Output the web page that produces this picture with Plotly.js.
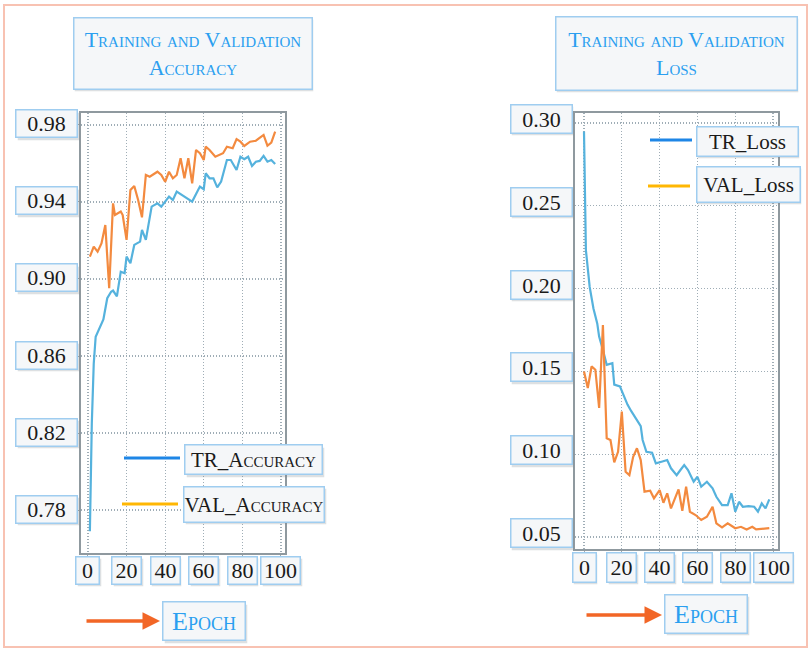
<!DOCTYPE html>
<html>
<head>
<meta charset="utf-8">
<script src="https://cdn.plot.ly/plotly-3.0.1.min.js"></script>
<style>html,body{margin:0;padding:0;background:#fff;}#chart{width:812px;height:651px;}</style>
</head>
<body>
<div id="chart"></div>
<script>
// ---------- DATA ----------
const accTrEpoch = [1,2,3,4,8,10,12,13,15,17,19,20,22,24,27,28,30,33,36,38,42,44,46,50,54,58,60,61,63,65,67,69,72,74,77,79,81,83,85,87,89,91,93,95,97];
const accTr      = [0.769,0.825,0.856,0.870,0.879,0.890,0.8934,0.894,0.891,0.9038,0.903,0.9116,0.9082,0.9177,0.9194,0.9255,0.9203,0.9376,0.9393,0.9376,0.9428,0.9410,0.9454,0.9428,0.9402,0.9480,0.9466,0.9549,0.9523,0.9523,0.9476,0.9506,0.9618,0.9618,0.9566,0.9635,0.9622,0.9635,0.9587,0.9609,0.9613,0.9639,0.9609,0.9618,0.9597];
const accValEpoch = [1,3,5,7,9,11,13,14,17,18,20,22,24,26,28,30,32,36,38,40,42,44,46,48,50,52,54,56,58,60,61,63,66,68,70,72,75,77,79,81,84,87,89,91,93,95,97];
const accVal      = [0.9116,0.9168,0.9142,0.9185,0.928,0.8952,0.9393,0.9332,0.935,0.9332,0.9203,0.9462,0.9483,0.941,0.932,0.954,0.9531,0.9557,0.954,0.9505,0.9557,0.9523,0.954,0.9627,0.9523,0.9627,0.9497,0.967,0.9653,0.9618,0.9687,0.967,0.9635,0.9644,0.9653,0.9687,0.9679,0.9726,0.9713,0.9691,0.9713,0.9718,0.9731,0.9748,0.9692,0.9708,0.9765];

const lossTrEpoch = [0,1,3,5,7,8,10,12,15,16,19,21,23,25,28,30,31,33,36,38,41,44,46,49,51,53,55,58,60,62,65,68,70,73,76,78,80,82,84,87,90,92,94,96,98];
const lossTr      = [0.2948,0.2233,0.201,0.188,0.179,0.171,0.163,0.154,0.155,0.142,0.141,0.135,0.130,0.126,0.121,0.117,0.1086,0.1015,0.1009,0.0945,0.0955,0.0965,0.0915,0.0874,0.0905,0.0935,0.0905,0.0834,0.0864,0.0804,0.0834,0.0794,0.0743,0.0693,0.0693,0.0764,0.0653,0.0713,0.0683,0.0687,0.0683,0.0653,0.0703,0.0673,0.0728];
const lossValEpoch = [0,2,4,6,8,10,12,14,16,18,20,22,24,26,28,30,32,35,37,40,42,44,46,50,52,54,56,59,62,65,68,70,73,76,80,83,86,89,91,95,98];
const lossVal      = [0.150,0.140,0.153,0.151,0.128,0.178,0.1096,0.1086,0.0951,0.1015,0.1257,0.0894,0.0874,0.0985,0.1036,0.0965,0.0774,0.078,0.0734,0.0784,0.0707,0.0764,0.0673,0.0788,0.0659,0.0804,0.0653,0.0633,0.0603,0.0623,0.0683,0.0583,0.0559,0.0583,0.0553,0.0562,0.0546,0.0562,0.0546,0.0553,0.0554];

const xTicks = [0,20,40,60,80,100];
const xTickLabels = ['0','20','40','60','80','100'];
const accYTicks = [0.78,0.82,0.86,0.90,0.94,0.98];
const accYTickLabels = ['0.78','0.82','0.86','0.90','0.94','0.98'];
const lossYTicks = [0.05,0.10,0.15,0.20,0.25,0.30];
const lossYTickLabels = ['0.05','0.10','0.15','0.20','0.25','0.30'];

const accTitle = 'Training and Validation<br>Accuracy';
const lossTitle = 'Training and Validation<br>Loss';
const xTitle = 'Epoch';
const accNames = ['TR_Accuracy','VAL_Accuracy'];
const lossNames = ['TR_Loss','VAL_Loss'];

// ---------- STYLE ----------
const W = 812, H = 651;
const px = x => x / W;
const py = y => 1 - y / H;
const SERIF = 'Liberation Serif, Times New Roman, serif';
const BOX_BORDER = '#9fcdf0';
const BOX_BG = '#f5f7f9';
const TITLE_BLUE = '#2b9ff0';
const TEXT_DARK = '#1a1a1a';
const PLOT_BLUE = '#55b2dd';
const PLOT_ORANGE = '#f38a3f';
const LEG_BLUE = '#1e86e6';
const LEG_YELLOW = '#ffb703';
const ARROW = '#f26626';

const traces = [
  {x: accTrEpoch, y: accTr, xaxis:'x', yaxis:'y', mode:'lines', name: accNames[0], line:{color:PLOT_BLUE, width:2.2}},
  {x: accValEpoch, y: accVal, xaxis:'x', yaxis:'y', mode:'lines', name: accNames[1], line:{color:PLOT_ORANGE, width:2.2}},
  {x: lossTrEpoch, y: lossTr, xaxis:'x2', yaxis:'y2', mode:'lines', name: lossNames[0], line:{color:PLOT_BLUE, width:2.2}},
  {x: lossValEpoch, y: lossVal, xaxis:'x2', yaxis:'y2', mode:'lines', name: lossNames[1], line:{color:PLOT_ORANGE, width:2.2}}
];

const axCommon = {
  showgrid:true, gridcolor:'#9fadb6', griddash:'1px,2px', gridwidth:1.2,
  showline:true, mirror:true, linecolor:'#8f999f', linewidth:2,
  ticks:'outside', ticklen:3, tickcolor:'#a0a8ad', tickwidth:1,
  showticklabels:false, zeroline:false, fixedrange:true
};

const annotations = [];
const boxAnn = (o) => Object.assign({
  showarrow:false, bordercolor:BOX_BORDER, borderwidth:1.5, borderpad:0,
  bgcolor:BOX_BG, xanchor:'center', yanchor:'middle', align:'center', valign:'middle',
  font:{family:SERIF, size:22, color:TEXT_DARK}
}, o);
// box with a soft drop shadow underneath
const addBox = (o) => {
  const sh = Object.assign({}, o, {
    text:' ', bgcolor:'rgba(120,130,140,0.25)', bordercolor:'rgba(0,0,0,0)',
    xshift:(o.xshift || 0) + 1.5, yshift:(o.yshift || 0) - 2.5
  });
  annotations.push(boxAnn(sh));
  annotations.push(boxAnn(o));
};

// y tick label boxes
accYTicks.forEach((v,i) => addBox({xref:'paper', x:px(46.5), yref:'y', y:v, yshift:1, text:accYTickLabels[i], width:60, height:26}));
lossYTicks.forEach((v,i) => addBox({xref:'paper', x:px(541), yref:'y2', y:v, yshift:4, text:lossYTickLabels[i], width:60, height:27}));
// x tick label boxes
const xw = s => Math.max(22, s.length * 10 + 8);
xTicks.forEach((v,i) => addBox({xref:'x', x:v, yref:'paper', y:py(570), text:xTickLabels[i], width:xw(xTickLabels[i]), height:26}));
xTicks.forEach((v,i) => addBox({xref:'x2', x:v, yref:'paper', y:py(567), text:xTickLabels[i], width:xw(xTickLabels[i]), height:28}));

// titles
addBox({xref:'paper', yref:'paper', x:px(192.5), y:py(53), text:accTitle, width:237, height:70,
  font:{family:SERIF, size:22, color:TITLE_BLUE, variant:'small-caps'}});
addBox({xref:'paper', yref:'paper', x:px(676), y:py(53), text:lossTitle, width:240, height:72,
  font:{family:SERIF, size:22, color:TITLE_BLUE, variant:'small-caps'}});

// Epoch boxes
addBox({xref:'paper', yref:'paper', x:px(204), y:py(621), text:xTitle, width:81, height:37,
  font:{family:SERIF, size:26, color:TITLE_BLUE, variant:'small-caps'}});
addBox({xref:'paper', yref:'paper', x:px(706), y:py(613.5), text:xTitle, width:81, height:37,
  font:{family:SERIF, size:26, color:TITLE_BLUE, variant:'small-caps'}});

// arrows
[[160,621,75],[662,615,77]].forEach(a => annotations.push({
  xref:'paper', yref:'paper', x:px(a[0]), y:py(a[1]), ax:-a[2], ay:0, axref:'pixel', ayref:'pixel',
  text:'', showarrow:true, arrowhead:2, arrowsize:1, arrowwidth:3.5, arrowcolor:ARROW, standoff:0, startstandoff:0
}));

// legend boxes
addBox({xref:'paper', yref:'paper', x:px(253.5), y:py(459.5), text:accNames[0], width:136, height:28,
  font:{family:SERIF, size:21, color:TEXT_DARK, variant:'small-caps'}});
addBox({xref:'paper', yref:'paper', x:px(254), y:py(504), text:accNames[1], width:139, height:34,
  font:{family:SERIF, size:21, color:TEXT_DARK, variant:'small-caps'}});
addBox({xref:'paper', yref:'paper', x:px(747), y:py(141), text:lossNames[0], width:100, height:28,
  font:{family:SERIF, size:21, color:TEXT_DARK}});
addBox({xref:'paper', yref:'paper', x:px(748), y:py(184.5), text:lossNames[1], width:102, height:34,
  font:{family:SERIF, size:21, color:TEXT_DARK}});

const shapes = [
  // outer frame
  {type:'rect', xref:'paper', yref:'paper', x0:px(4), x1:px(807), y0:py(647), y1:py(5), line:{color:'#f8c2b2', width:2}, layer:'below'},
  // legend line segments
  {type:'line', xref:'paper', yref:'paper', x0:px(124), x1:px(180), y0:py(458), y1:py(458), line:{color:LEG_BLUE, width:3}},
  {type:'line', xref:'paper', yref:'paper', x0:px(122), x1:px(178), y0:py(504), y1:py(504), line:{color:LEG_YELLOW, width:3}},
  {type:'line', xref:'paper', yref:'paper', x0:px(650), x1:px(692), y0:py(140), y1:py(140), line:{color:LEG_BLUE, width:3}},
  {type:'line', xref:'paper', yref:'paper', x0:px(648), x1:px(690), y0:py(186), y1:py(186), line:{color:LEG_YELLOW, width:3}}
];

const layout = {
  width: W, height: H,
  margin:{l:0, r:0, t:0, b:0},
  paper_bgcolor:'#ffffff', plot_bgcolor:'#ffffff',
  showlegend:false,
  xaxis: Object.assign({}, axCommon, {domain:[px(81), px(285)], range:[-3.6, 102.1], tickvals:xTicks, anchor:'y'}),
  yaxis: Object.assign({}, axCommon, {domain:[py(553), py(113)], range:[0.7577, 0.9862], tickvals:accYTicks, anchor:'x'}),
  xaxis2: Object.assign({}, axCommon, {domain:[px(575), px(778)], range:[-4.76, 102.6], tickvals:xTicks, anchor:'y2'}),
  yaxis2: Object.assign({}, axCommon, {domain:[py(549), py(113)], range:[0.0428, 0.306], tickvals:lossYTicks, anchor:'x2'}),
  annotations: annotations,
  shapes: shapes
};

Plotly.newPlot('chart', traces, layout, {displayModeBar:false, staticPlot:true});
</script>
</body>
</html>
